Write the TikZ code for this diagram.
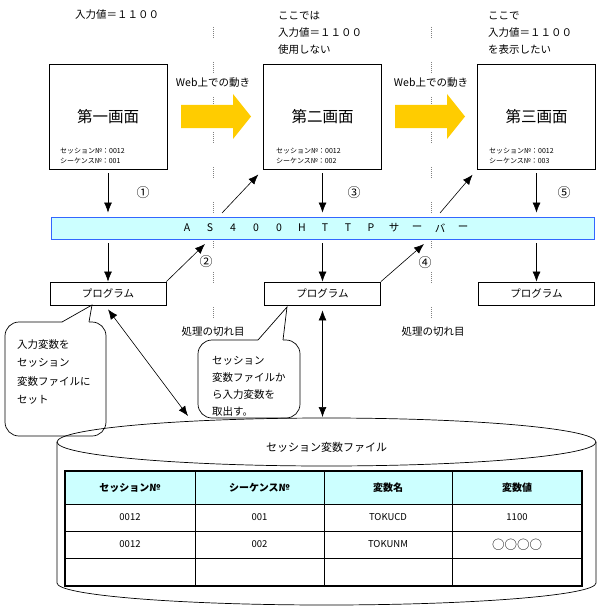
\documentclass[tikz,border=0pt]{standalone}
\usepackage{fontspec}
\setmainfont{Noto Sans CJK JP}
\usepackage{tikz}
\usetikzlibrary{arrows.meta}
\definecolor{barfill}{HTML}{CCFFFF}
\definecolor{barline}{HTML}{3366FF}
\definecolor{webgold}{HTML}{FFCC00}

\tikzset{
  screen/.style={draw, line width=0.8pt, minimum width=118pt, minimum height=105pt, inner sep=0pt},
  prog/.style={draw, line width=0.8pt, minimum width=116pt, minimum height=23pt, inner sep=0pt, font=\fontsize{10.5}{12}\selectfont},
  bigtitle/.style={inner sep=0pt, font=\fontsize{15.5}{17}\selectfont},
  info/.style={anchor=west, inner sep=0pt, font=\fontsize{7}{8}\selectfont},
  label/.style={inner sep=0pt, font=\fontsize{10.5}{12}\selectfont},
  stepno/.style={inner sep=0pt, font=\fontsize{13}{14}\selectfont},
  memo/.style={anchor=north west, align=left, inner sep=0pt},
  cell/.style={inner sep=0pt, font=\fontsize{9.5}{10}\selectfont},
  headcell/.style={inner sep=0pt, font=\fontsize{10}{11}\selectfont\bfseries},
  flow/.style={-{Latex[length=10pt,width=8pt]}, line width=0.6pt},
  both/.style={{Latex[length=10pt,width=8pt]}-{Latex[length=10pt,width=8pt]}, line width=0.6pt},
  split/.style={gray, line width=0.7pt, dash pattern=on 1pt off 1pt on 1pt off 1pt on 1pt off 1pt on 1pt off 1pt on 1pt off 1pt on 1pt off 24pt}
}

\begin{document}
\begin{tikzpicture}[x=1pt, y=-1pt]
\useasboundingbox (0,0) rectangle (597,607);
% texts above the screens
\node[label, anchor=west] (val1) at (75,15) {入力値＝１１００};
\node[label, anchor=west] (mid1) at (278,16) {ここでは};
\node[label, anchor=west] (mid2) at (278,33) {入力値＝１１００};
\node[label, anchor=west] (mid3) at (278,50) {使用しない};
\node[label, anchor=west] (rgt1) at (488,16) {ここで};
\node[label, anchor=west] (rgt2) at (488,33) {入力値＝１１００};
\node[label, anchor=west] (rgt3) at (488,50) {を表示したい};
%
\draw[split] (213,27) -- (213,320);
\draw[split] (431,27) -- (431,320);
%
\node[screen] (scr1) at (108,116.5) {};
\node[screen] (scr2) at (322.5,116.5) {};
\node[screen] (scr3) at (536.5,116.5) {};
\node[bigtitle] (ttl1) at (108,117) {第一画面};
\node[bigtitle] (ttl2) at (322.5,117) {第二画面};
\node[bigtitle] (ttl3) at (536.5,117) {第三画面};
\node[info] (ses1) at (60,151) {セッション№：0012};
\node[info] (seq1) at (60,161) {シーケンス№：001};
\node[info] (ses2) at (276,151) {セッション№：0012};
\node[info] (seq2) at (276,161) {シーケンス№：002};
\node[info] (ses3) at (489,151) {セッション№：0012};
\node[info] (seq3) at (489,161) {シーケンス№：003};
%
\fill[webgold] (181,105) -- (233,105) -- (233,94) -- (251,116.5) -- (233,139) -- (233,128) -- (181,128) -- cycle;
\fill[webgold] (395,105) -- (447,105) -- (447,94) -- (465,116.5) -- (447,139) -- (447,128) -- (395,128) -- cycle;
\node[label] (web1) at (213,83) {Web上での動き};
\node[label] (web2) at (431,83) {Web上での動き};
%
\node[draw=barline, fill=barfill, line width=0.8pt, minimum width=543pt, minimum height=22pt, inner sep=0pt] (bar) at (322.5,228) {};
\foreach \c [count=\i from 0] in {A,S,4,0,0,H,T,T,P,サ,ー,バ,ー}
  \node[label] (chr\i) at ({187+23*\i},228) {\c};
%
\node[prog] (prog1) at (108,293.5) {プログラム};
\node[prog] (prog2) at (322.5,293.5) {プログラム};
\node[prog] (prog3) at (536.5,293.5) {プログラム};
%
\draw[flow, shorten <=4pt, shorten >=4pt] (scr1.south) -- (scr1.south |- bar.north);
\draw[flow, shorten <=4pt, shorten >=4pt] (scr2.south) -- (scr2.south |- bar.north);
\draw[flow, shorten <=4pt, shorten >=4pt] (scr3.south) -- (scr3.south |- bar.north);
\draw[flow, shorten <=4pt] (prog1.north |- bar.south) -- (prog1.north);
\draw[flow, shorten <=4pt] (prog2.north |- bar.south) -- (prog2.north);
\draw[flow, shorten <=4pt] (prog3.north |- bar.south) -- (prog3.north);
%
\coordinate (ret1) at (205,244);
\coordinate (ret2) at (424,244);
\coordinate (out1) at (222,213);
\coordinate (out2) at (440,213);
\draw[flow] (prog1.north east) -- (ret1);
\draw[flow] (prog2.north east) -- (ret2);
\draw[flow, shorten >=7pt] (out1) -- (scr2.south west);
\draw[flow, shorten >=7pt] (out2) -- (scr3.south west);
%
\node[stepno] (n1) at (143,193) {①};
\node[stepno] (n2) at (206,262) {②};
\node[stepno] (n3) at (354,193) {③};
\node[stepno] (n4) at (425,263) {④};
\node[stepno] (n5) at (564,193) {⑤};
%
\node[label] (cut1) at (213,332) {処理の切れ目};
\node[label] (cut2) at (433,332) {処理の切れ目};
%
% callouts
\draw[line width=0.7pt, rounded corners=14pt] (89,322) -- (106,322) -- (106,436) -- (5,436) -- (5,322) -- (62,322);
\draw[line width=0.7pt] (62,322) -- (92,305) -- (89,322);
\node[memo, font=\fontsize{10.5}{18.5}\selectfont] (memo1) at (17,339) {入力変数を\\セッション\\変数ファイルに\\セット};
\draw[line width=0.7pt, rounded corners=14pt] (283,340) -- (300,340) -- (300,418) -- (198,418) -- (198,340) -- (258,340);
\draw[line width=0.7pt] (258,340) -- (287,307) -- (283,340);
\node[memo, font=\fontsize{10.5}{17}\selectfont] (memo2) at (212,356) {セッション\\変数ファイルか\\ら入力変数を\\取出す。};
%
% session file
\draw[line width=0.7pt] (57,442) -- (57,583) arc[start angle=180, end angle=360, x radius=269.5pt, y radius=22pt] -- (596,442);
\draw[line width=0.7pt] (326.5,442) ellipse[x radius=269.5pt, y radius=24pt];
\node[label, font=\fontsize{11}{12}\selectfont] (file) at (326.5,447) {セッション変数ファイル};
%
\draw[both] (prog1.south) ++(0,4) coordinate (lnk1) -- (188,416);
\draw[both] (prog2.south) ++(0,5) coordinate (lnk2) -- (322.5,417);
%
\fill[barfill] (65,471) rectangle (582,504);
\foreach \y in {504,531,558}
  \draw[line width=0.7pt] (65,\y) -- (582,\y);
\foreach \x in {195,324,452}
  \draw[line width=0.7pt] (\x,471) -- (\x,586);
\draw[line width=2.6pt] (65,471) rectangle (582,586);
\node[headcell] (h1) at (130,487.5) {セッション№};
\node[headcell] (h2) at (259.5,487.5) {シーケンス№};
\node[headcell] (h3) at (388,487.5) {変数名};
\node[headcell] (h4) at (517,487.5) {変数値};
\node[cell] (a1) at (130,517.5) {0012};
\node[cell] (a2) at (259.5,517.5) {001};
\node[cell] (a3) at (388,517.5) {TOKUCD};
\node[cell] (a4) at (517,517.5) {1100};
\node[cell] (b1) at (130,544.5) {0012};
\node[cell] (b2) at (259.5,544.5) {002};
\node[cell] (b3) at (388,544.5) {TOKUNM};
\node[cell, font=\fontsize{12.5}{13}\selectfont] (b4) at (517,544.5) {○○○○};
\end{tikzpicture}
\end{document}
